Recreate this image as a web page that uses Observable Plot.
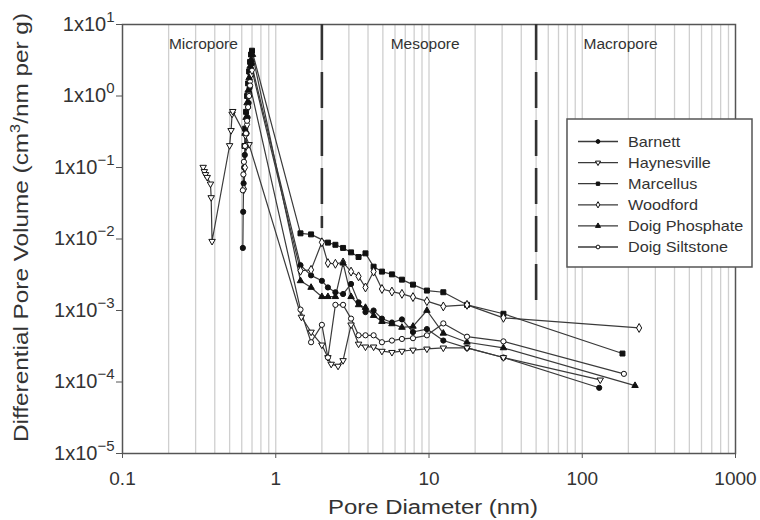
<!DOCTYPE html>
<html><head><meta charset="utf-8">
<script src="https://cdn.jsdelivr.net/npm/d3@7"></script>
<script src="https://cdn.jsdelivr.net/npm/@observablehq/plot@0.6"></script>
<style>
body{margin:0;background:#fff;}
#chart{position:relative;width:760px;height:520px;}
#chart svg text{font-family:"Liberation Sans",Arial,sans-serif;}
</style></head><body><div id="chart"></div>
<script>
// ---- data (pore diameter nm, differential pore volume) ----
const seriesNames = ["Barnett","Haynesville","Marcellus","Woodford","Doig Phosphate","Doig Siltstone"];
const barnett = [[0.61,0.0075],[0.613,0.024],[0.617,0.06],[0.622,0.1],[0.628,0.15],[0.635,0.2],[0.645,0.3],[0.655,0.5],[0.665,0.8],[0.675,1.3],[0.685,2.0],[0.695,2.8],
  [1.45,0.0043],[1.7,0.0031],[2.0,0.0026],[2.19,0.0021],[2.45,0.0018],[2.75,0.0017],[3.1,0.00235],[3.47,0.0013],[3.85,0.00095],[4.35,0.001],[4.93,0.00077],[5.73,0.00068],[6.66,0.00075],[7.86,0.0005],[9.69,0.00055],[12.4,0.00038],[17.7,0.0003],[30.6,0.00022],[129,0.000083]];
const haynesville = [[0.336,0.101],[0.342,0.088],[0.348,0.08],[0.357,0.073],[0.375,0.059],[0.379,0.038],[0.384,0.0093],[0.50,0.203],[0.511,0.33],[0.519,0.56],[0.524,0.61],[0.634,0.28],[0.67,0.21],
  [1.47,0.00081],[1.7,0.0005],[2.0,0.00033],[2.19,0.00022],[2.3,0.000178],[2.55,0.000167],[2.75,0.0002],[3.1,0.00063],[3.47,0.00034],[3.85,0.00031],[4.35,0.00031],[4.93,0.00027],[5.73,0.00026],[6.66,0.00027],[7.86,0.00028],[9.69,0.00029],[12.4,0.0003],[17.7,0.0003],[30.6,0.00022],[131,0.000107]];
const marcellus = [[0.625,0.2],[0.632,0.35],[0.64,0.6],[0.65,1.0],[0.66,1.5],[0.67,2.2],[0.68,3.0],[0.69,3.8],[0.70,4.3],
  [1.45,0.012],[1.7,0.0116],[2.19,0.0089],[2.45,0.0083],[2.75,0.0075],[3.1,0.0065],[3.47,0.0056],[3.85,0.0063],[4.35,0.0041],[4.93,0.0035],[5.73,0.0032],[6.66,0.0027],[7.86,0.0023],[9.69,0.0019],[12.4,0.0018],[17.7,0.0012],[30.6,0.0009],[183,0.00025]];
const woodford = [[0.62,0.05],[0.63,0.1],[0.64,0.2],[0.65,0.4],[0.66,0.7],[0.67,1.1],[0.68,1.6],[0.69,2.0],[0.70,2.3],
  [1.45,0.0036],[1.7,0.0037],[2.0,0.009],[2.19,0.0046],[2.45,0.0045],[2.75,0.0047],[3.1,0.0035],[3.47,0.003],[3.85,0.0021],[4.35,0.0035],[4.93,0.002],[5.73,0.00184],[6.66,0.00171],[7.86,0.00154],[9.69,0.00135],[12.4,0.00114],[17.7,0.0012],[30.6,0.00079],[235,0.00057]];
const doigPhosphate = [[0.63,0.3],[0.64,0.5],[0.65,0.8],[0.66,1.2],[0.67,1.8],[0.68,2.6],[0.69,3.2],[0.705,3.8],
  [1.45,0.0026],[1.7,0.0021],[2.0,0.00156],[2.19,0.00156],[2.45,0.00156],[2.75,0.0046],[3.1,0.00156],[3.47,0.0012],[3.85,0.0011],[4.35,0.00085],[4.93,0.0007],[5.73,0.00065],[6.66,0.00058],[7.86,0.0006],[9.69,0.001],[12.4,0.00048],[17.7,0.00036],[30.6,0.0003],[221,0.000089]];
const doigSiltstone = [[0.61,0.048],[0.615,0.08],[0.62,0.12],[0.63,0.2],[0.64,0.3],[0.65,0.45],[0.66,0.7],[0.67,1.0],[0.68,1.4],
  [1.45,0.00103],[1.7,0.00036],[2.0,0.00063],[2.19,0.00022],[2.45,0.0012],[2.75,0.0012],[3.1,0.00077],[3.47,0.00045],[3.85,0.00045],[4.35,0.00045],[4.93,0.00036],[5.73,0.00038],[6.66,0.0004],[7.86,0.00041],[9.69,0.00045],[12.4,0.00066],[17.7,0.00043],[30.6,0.00037],[187,0.00013]];

const xTicks = [0.1, 1, 10, 100, 1000];
const yTicks = [1e-5, 1e-4, 1e-3, 1e-2, 1e-1, 1, 10];
const yExponents = ["−5","−4","−3","−2","−1","0","1"];
const regionLabels = [{label:"Micropore", x:0.337, y:5.3},{label:"Mesopore", x:9.44, y:5.3},{label:"Macropore", x:178, y:5.3}];
const boundaries = [{x:2, top:10, bottom:0.014},{x:50, top:10, bottom:0.0013}];
const xTitle = "Pore Diameter (nm)";
const yTitleParts = ["Differential Pore Volume (cm", "3", "/nm per g)"];

// ---- build ----
const allSeries = [barnett, haynesville, marcellus, woodford, doigPhosphate, doigSiltstone];
const table = allSeries.flatMap((s, i) => s.map(([x, y]) => ({series: seriesNames[i], x, y})));

const sqrt3 = Math.sqrt(3);
const triangleDown = {draw(ctx, size){ const y = -Math.sqrt(size / (sqrt3 * 3)); ctx.moveTo(0, -y * 2); ctx.lineTo(-sqrt3 * y, y); ctx.lineTo(sqrt3 * y, y); ctx.closePath(); }};
const styles = {
  "Barnett": {symbol:"circle", fill:"#111", r:2.6},
  "Haynesville": {symbol:triangleDown, fill:"white", r:2.4},
  "Marcellus": {symbol:"square", fill:"#111", r:2.8},
  "Woodford": {symbol:"diamond", fill:"white", r:2.7},
  "Doig Phosphate": {symbol:"triangle", fill:"#111", r:2.4},
  "Doig Siltstone": {symbol:"circle", fill:"white", r:2.6}
};

const gridX = [];
for (const d of [0.1, 1, 10, 100]) for (let k = 1; k <= 9; k++) { const v = +(d * k).toPrecision(3); if (v > 0.1) gridX.push(v); }

const dotMarks = seriesNames.map(name => Plot.dot(table.filter(d => d.series === name), {
  x:"x", y:"y", symbol: () => styles[name].symbol, r: styles[name].r,
  fill: styles[name].fill, stroke:"#111", strokeWidth:1
}));

const plot = Plot.plot({
  width:760, height:520,
  marginLeft:122, marginRight:25, marginTop:24, marginBottom:67,
  x:{type:"log", domain:[0.1, 1000]},
  y:{type:"log", domain:[1e-5, 10]},
  symbol:{type:"identity"},
  style:{fontFamily:"Liberation Sans, Arial, sans-serif", background:"white", color:"#333", overflow:"visible"},
  marks:[
    Plot.ruleX(gridX, {stroke:"#cfcfcf", strokeWidth:1.3}),
    Plot.axisX({ticks:xTicks, tickFormat:d => String(d), tickSize:5, tickPadding:13, fontSize:19, label:null, stroke:"#555"}),
    Plot.axisY({ticks:yTicks, tickFormat:d => "1x10|" + yExponents[yTicks.indexOf(d)], tickSize:6, tickPadding:2, fontSize:20, label:null, stroke:"#555"}),
    Plot.frame({stroke:"#555", strokeWidth:1.5}),
    Plot.ruleX(boundaries, {x:"x", y1:"top", y2:"bottom", stroke:"#333", strokeWidth:2.6, strokeDasharray:"36,12"}),
    Plot.line(table, {x:"x", y:"y", z:"series", stroke:"#3a3a3a", strokeWidth:1.2}),
    ...dotMarks,
    Plot.text(regionLabels, {x:"x", y:"y", text:"label", fontSize:15.5, fill:"#333", ariaLabel:"region label"})
  ]
});

document.getElementById("chart").appendChild(plot);
const svg = d3.select(plot);

function stretch(el, f){ const L = el.getComputedTextLength(); el.setAttribute("textLength", L * f); el.setAttribute("lengthAdjust", "spacingAndGlyphs"); }

// superscript tick labels
svg.selectAll('g[aria-label="y-axis tick label"] text').each(function(){
  const [base, exp] = this.textContent.split("|");
  const t = d3.select(this); t.text(null);
  t.append("tspan").text(base);
  t.append("tspan").attr("font-size", 15).attr("dy", -9).text(exp);
});
svg.selectAll('g[aria-label="region label"] text').each(function(){ stretch(this, 1.1); });

// axis titles
const xt = svg.append("text").attr("x", 433).attr("y", 514).attr("text-anchor", "middle")
  .attr("font-size", 20).attr("fill", "#333").text(xTitle);
xt.attr("textLength", 210).attr("lengthAdjust", "spacingAndGlyphs");
const yt = svg.append("text").attr("transform", "translate(28,227.5) rotate(-90)").attr("text-anchor", "middle")
  .attr("font-size", 21).attr("fill", "#333");
yt.append("tspan").text(yTitleParts[0]);
yt.append("tspan").attr("font-size", 14).attr("dy", -8).text(yTitleParts[1]);
yt.append("tspan").attr("dy", 8).text(yTitleParts[2]);
yt.attr("textLength", 429).attr("lengthAdjust", "spacingAndGlyphs");

// legend
const lg = svg.append("g").attr("aria-label", "legend");
lg.append("rect").attr("x", 567).attr("y", 119).attr("width", 185).attr("height", 148)
  .attr("fill", "white").attr("stroke", "#555").attr("stroke-width", 1.5);
const symbolTypes = {circle:d3.symbolCircle, square:d3.symbolSquare, diamond:d3.symbolDiamond, triangle:d3.symbolTriangle};
seriesNames.forEach((name, i) => {
  const y = 141.5 + i * 21.1;
  lg.append("line").attr("x1", 578).attr("x2", 618).attr("y1", y).attr("y2", y).attr("stroke", "#3a3a3a").attr("stroke-width", 1.3);
  const st = styles[name];
  const sym = typeof st.symbol === "string" ? symbolTypes[st.symbol] : st.symbol;
  lg.append("path").attr("d", d3.symbol(sym, Math.PI * 1.9 * 1.9)()).attr("transform", `translate(598,${y})`)
    .attr("fill", st.fill).attr("stroke", "#111").attr("stroke-width", 1);
  const tx = lg.append("text").attr("x", 628).attr("y", y + 5.3).attr("text-anchor", "start")
    .attr("font-size", 15).attr("fill", "#333").text(name);
  stretch(tx.node(), 1.08);
});
</script></body></html>
